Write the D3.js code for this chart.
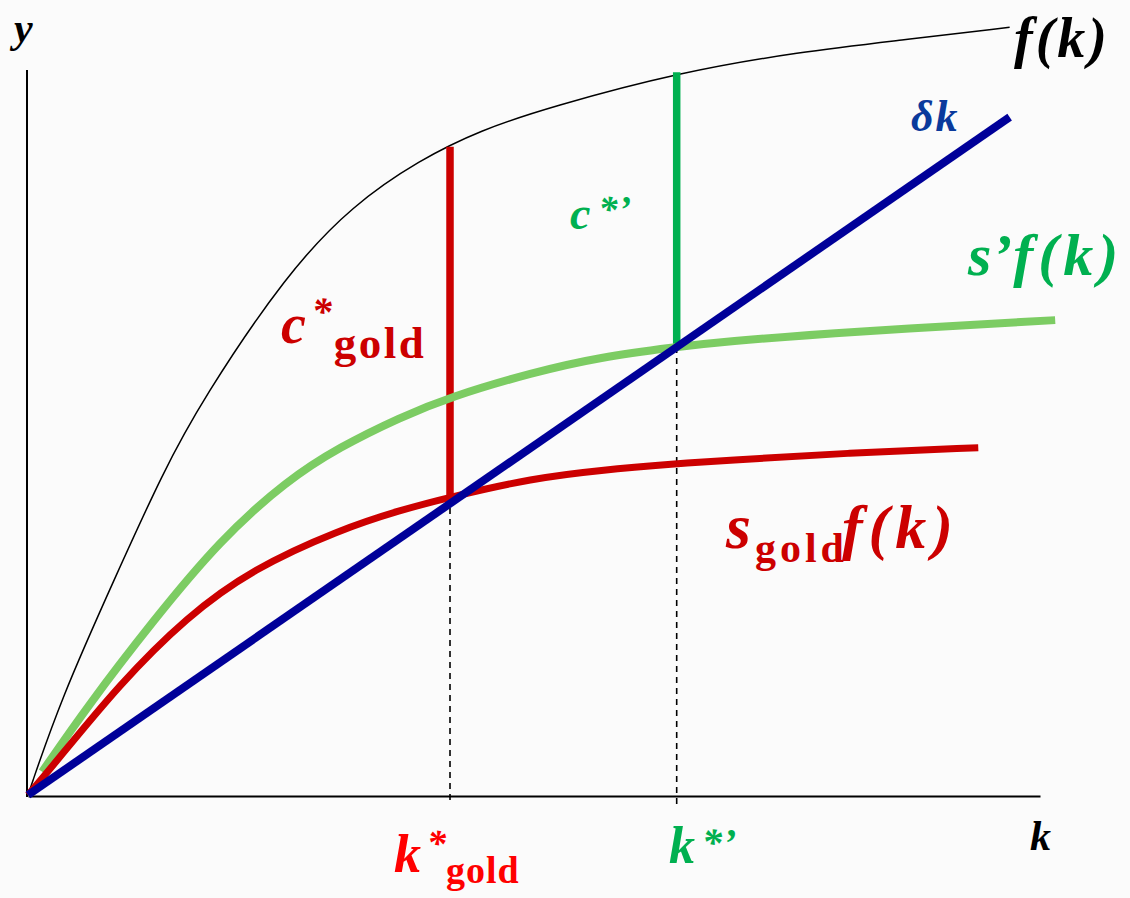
<!DOCTYPE html>
<html>
<head>
<meta charset="utf-8">
<script src="https://cdn.jsdelivr.net/npm/d3@7"></script>
<style>
  html, body { margin: 0; padding: 0; background: #fbfbfb; }
  svg text { font-family: "Liberation Serif", "DejaVu Serif", serif; }
</style>
</head>
<body>
<div id="chart"></div>
<script>
// curves: [k, y] in plot units (0..100 on both axes)
const prodCurve = [[0, 0], [3.2, 13.1], [8.8, 30.6], [13.3, 44.4], [17.2, 54.5],
  [25.6, 72.0], [32.1, 81.4], [38.7, 87.6], [44.7, 91.7], [51.6, 94.9], [64.4, 99.7],
  [76.3, 102.5], [86.2, 104.1], [97.0, 105.9]];
const savingHigh = [[1.4, 3.2], [5.8, 12.1], [12.4, 24.1], [19.0, 35.2], [25.6, 43.4], [30.8, 48.0],
  [36.8, 52.1], [41.7, 54.9], [49.9, 58.3], [56.5, 60.4], [64.1, 61.8], [68.4, 62.5],
  [81.2, 63.9], [101.5, 65.5]];
const savingGold = [[0, 0], [2.5, 4.1], [9.1, 15.4], [15.7, 24.6], [22.2, 31.2], [30.8, 36.6],
  [36.8, 39.3], [41.7, 41.1], [49.9, 43.7], [56.5, 44.8], [64.1, 45.7], [68.4, 46.1],
  [81.2, 47.2], [93.9, 47.9]];
const depreciation = [[0, 0], [97.0, 93.5]];

// steady states
const kGold = 41.7, kPrime = 64.1;
const cGoldTop = 89.4, cPrimeTop = 99.7;
const sGoldAtGold = 41.1, sPrimeAtPrime = 61.8;

const W = 1130, H = 898;
const svg = d3.select('#chart').append('svg')
  .attr('width', W).attr('height', H)
  .style('background', '#fbfbfb');

const x = d3.scaleLinear().domain([0, 100]).range([28, 1040]);
const y = d3.scaleLinear().domain([0, 100]).range([795, 70]);

// axes, no ticks
svg.append('g')
  .attr('transform', `translate(0, ${y(0) + 1})`)
  .call(d3.axisBottom(x).tickValues([]).tickSizeOuter(0))
  .call(g => g.select('.domain').attr('stroke', '#000').attr('stroke-width', 2));
svg.append('g')
  .attr('transform', `translate(${x(0) - 1}, 0)`)
  .call(d3.axisLeft(y).tickValues([]).tickSizeOuter(0))
  .call(g => g.select('.domain').attr('stroke', '#000').attr('stroke-width', 2)
    .attr('d', `M0,${y(100)}V${y(0) + 2}`));

// basis smooths out the reading noise
const line = d3.line().x(d => x(d[0])).y(d => y(d[1])).curve(d3.curveBasis);

// dashed drops to the k axis
svg.append('line')
  .attr('x1', x(kGold)).attr('x2', x(kGold))
  .attr('y1', y(sGoldAtGold)).attr('y2', y(-0.7))
  .attr('stroke', '#000').attr('stroke-width', 1.6).attr('stroke-dasharray', '6,5');
svg.append('line')
  .attr('x1', x(kPrime)).attr('x2', x(kPrime))
  .attr('y1', y(sPrimeAtPrime)).attr('y2', y(-1.8))
  .attr('stroke', '#000').attr('stroke-width', 1.6).attr('stroke-dasharray', '6,5');

// f(k)
svg.append('path').datum(prodCurve)
  .attr('d', line).attr('fill', 'none').attr('stroke', '#000').attr('stroke-width', 1.5);

// consumption bars
svg.append('line')
  .attr('x1', x(kGold)).attr('x2', x(kGold))
  .attr('y1', y(cGoldTop)).attr('y2', y(sGoldAtGold))
  .attr('stroke', '#cc0000').attr('stroke-width', 7.5);
svg.append('line')
  .attr('x1', x(kPrime)).attr('x2', x(kPrime))
  .attr('y1', y(cPrimeTop)).attr('y2', y(sPrimeAtPrime))
  .attr('stroke', '#00b050').attr('stroke-width', 7.5);

// s'f(k)
svg.append('path').datum(savingHigh)
  .attr('d', line).attr('fill', 'none').attr('stroke', '#7ccc63').attr('stroke-width', 8);
// s_gold f(k)
svg.append('path').datum(savingGold)
  .attr('d', line).attr('fill', 'none').attr('stroke', '#cc0000').attr('stroke-width', 7);
// delta k
svg.append('path').datum(depreciation)
  .attr('d', line).attr('fill', 'none').attr('stroke', '#000099').attr('stroke-width', 8);

// labels: list of tspans
function label(px, py, color, parts) {
  const t = svg.append('text').attr('x', px).attr('y', py).attr('fill', color);
  parts.forEach(p => {
    t.append('tspan')
      .attr('font-size', p.size)
      .attr('font-style', p.italic === false ? 'normal' : 'italic')
      .attr('font-weight', 'bold')
      .attr('dy', p.dy || 0)
      .attr('dx', p.dx || 0)
      .style('letter-spacing', (p.ls || 0) + 'px')
      .text(p.t);
  });
  return t;
}

label(14, 42, '#000', [{ t: 'y', size: 42 }]);
label(1014, 57, '#000', [{ t: 'f(k)', size: 56, ls: 3 }]);
label(1030, 850, '#000', [{ t: 'k', size: 42 }]);
label(911, 131, '#0a3a9c', [{ t: 'δk', size: 44, ls: 2 }]);
label(968, 275, '#00b050', [{ t: 's’', size: 60, ls: 1 }, { t: 'f(k)', size: 60, ls: 5 }]);
label(570, 229, '#00b050', [{ t: 'c', size: 46 }, { t: '*’', size: 38, dy: -7, dx: 8, ls: 1 }]);
label(281, 343, '#cc0000', [{ t: 'c', size: 56 }, { t: '*', size: 40, dy: -18, dx: 6 },
  { t: 'gold', size: 45, italic: false, dy: 33, dx: 2, ls: 2.5 }]);
label(726, 548, '#cc0000', [{ t: 's', size: 64 }, { t: 'gold', size: 42, italic: false, dy: 14, dx: 4, ls: 4 },
  { t: 'f(k)', size: 62, dy: -14, dx: -6, ls: 6 }]);
label(394, 872, '#ff0000', [{ t: 'k', size: 54 }, { t: '*', size: 38, dy: -16, dx: 6 },
  { t: 'gold', size: 38, italic: false, dy: 27, ls: 1 }]);
label(669, 863, '#00b050', [{ t: 'k', size: 52 }, { t: '*’', size: 40, dy: -7, dx: 7, ls: 1 }]);
</script>
</body>
</html>
